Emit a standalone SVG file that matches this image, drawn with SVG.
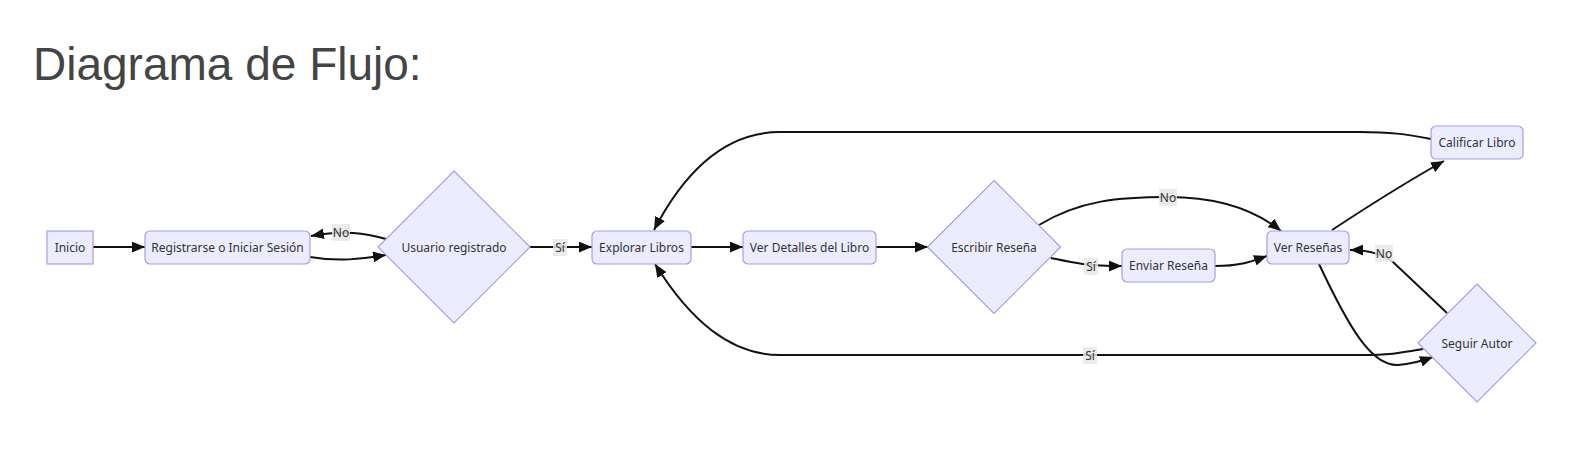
<svg xmlns="http://www.w3.org/2000/svg" width="1593" height="465" viewBox="0 0 1593 465">
<style>
.node rect, .node polygon { fill: #ECECFF; stroke: #a99ce6; stroke-width: 1.2; }
.node text { font-family: "Noto Sans", "Open Sans", sans-serif; font-size: 12px; fill: #333; text-anchor: middle; dominant-baseline: central; }
.edge { fill: none; stroke: #111; stroke-width: 2; marker-end: url(#arrow); }
.lbl rect { fill: #e8e8e8; opacity: 0.85; }
.lbl text { font-family: "Noto Sans", "Open Sans", sans-serif; font-size: 12px; fill: #333; text-anchor: middle; dominant-baseline: central; }
.title { font-family: "Liberation Sans", Arial, sans-serif; font-size: 46px; fill: #444; }
</style>
<defs>
<marker id="arrow" viewBox="0 0 12 10" refX="12" refY="5" markerWidth="13" markerHeight="11" markerUnits="userSpaceOnUse" orient="auto">
<path d="M0,0 L12,5 L0,10 z" fill="#111"/>
</marker>
</defs>
<rect width="1593" height="465" fill="#fff"/>
<text class="title" x="33" y="80">Diagrama de Flujo:</text>

<g id="connectors">
<path class="edge" d="M93,247 L145,247"/>
<path class="edge" d="M310,257 C340,262 360,259 386,255"/>
<path class="edge" d="M386,239 C365,233 345,230 311,236"/>
<path class="edge" d="M530,247 L592,247"/>
<path class="edge" d="M691,247 L743,247"/>
<path class="edge" d="M876,247 L928,247"/>
<path class="edge" d="M1039,225 C1080,200 1120,197 1168,197 C1220,197 1255,210 1281,231"/>
<path class="edge" d="M1051,258 C1070,262 1085,266 1122,266"/>
<path class="edge" d="M1215,266 C1240,266 1250,262 1267,256"/>
<path class="edge" d="M1332,230 C1370,205 1410,180 1444,161"/>
<path class="edge" d="M1431,139 C1405,134 1390,132 1360,132 L780,132 C720,132 680,180 654,230"/>
<path class="edge" d="M1319,264 C1350,330 1372,366 1398,365 C1412,364 1422,361 1433,357"/>
<path class="edge" d="M1447,313 L1393,262 C1380,252 1365,250 1350,250"/>
<path class="edge" d="M1423,349 C1400,353 1390,355 1360,355 L780,355 C730,355 690,320 655,264"/>
</g>

<g id="edge-labels">
<g class="lbl"><rect x="332" y="224" width="18" height="17"/><text x="341" y="232">No</text></g>
<g class="lbl"><rect x="553" y="239" width="14" height="17"/><text x="560" y="247">Sí</text></g>
<g class="lbl"><rect x="1159" y="189" width="18" height="17"/><text x="1168" y="197">No</text></g>
<g class="lbl"><rect x="1084" y="258" width="14" height="17"/><text x="1091" y="266">Sí</text></g>
<g class="lbl"><rect x="1375" y="245" width="18" height="17"/><text x="1384" y="253">No</text></g>
<g class="lbl"><rect x="1083" y="347" width="14" height="17"/><text x="1090" y="355">Sí</text></g>
</g>

<g id="inicio" class="node"><rect x="47" y="231" width="46" height="33"/><text x="70" y="247">Inicio</text></g>
<g id="registrarse" class="node"><rect x="145" y="231" width="165" height="33" rx="5"/><text x="227.5" y="247">Registrarse o Iniciar Sesión</text></g>
<g id="usuario" class="node"><polygon points="454,171 530,247 454,323 378,247"/><text x="454" y="247">Usuario registrado</text></g>
<g id="explorar" class="node"><rect x="592" y="231" width="99" height="33" rx="5"/><text x="641.5" y="247">Explorar Libros</text></g>
<g id="detalles" class="node"><rect x="743" y="231" width="133" height="33" rx="5"/><text x="809.5" y="247">Ver Detalles del Libro</text></g>
<g id="escribir" class="node"><polygon points="994,180.5 1060.5,247 994,313.5 927.5,247"/><text x="994" y="247">Escribir Reseña</text></g>
<g id="enviar" class="node"><rect x="1122" y="249" width="93" height="33" rx="5"/><text x="1168.5" y="265.5">Enviar Reseña</text></g>
<g id="verresenas" class="node"><rect x="1267" y="231" width="82" height="33" rx="5"/><text x="1308" y="247">Ver Reseñas</text></g>
<g id="calificar" class="node"><rect x="1431" y="126" width="92" height="33" rx="5"/><text x="1477" y="142.5">Calificar Libro</text></g>
<g id="seguir" class="node"><polygon points="1477,284 1536,343 1477,402 1418,343"/><text x="1477" y="343">Seguir Autor</text></g>
</svg>
